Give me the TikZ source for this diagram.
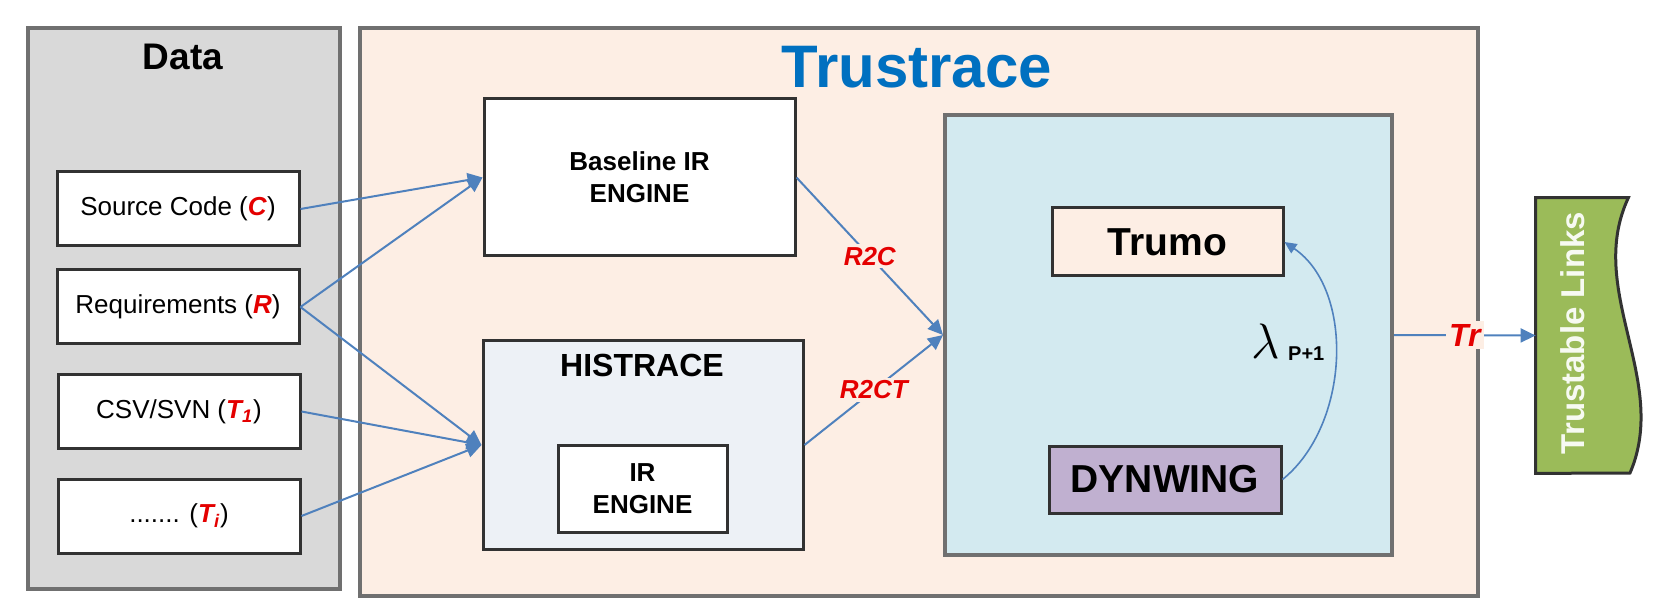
\documentclass[tikz,border=0pt]{standalone}
\usepackage{fontspec}
\setmainfont{Liberation Sans}
\usetikzlibrary{arrows.meta}
\definecolor{datagray}{RGB}{217,217,217}
\definecolor{framegray}{RGB}{112,112,112}
\definecolor{boxedge}{RGB}{50,50,50}
\definecolor{peach}{RGB}{253,238,228}
\definecolor{histblue}{RGB}{237,241,246}
\definecolor{coreblue}{RGB}{211,234,240}
\definecolor{lavender}{RGB}{192,176,208}
\definecolor{linkgreen}{RGB}{155,187,89}
\definecolor{flowblue}{RGB}{79,129,189}
\definecolor{tracered}{RGB}{228,0,0}
\definecolor{titleblue}{RGB}{0,112,192}
\newcommand{\tracevar}[1]{\textcolor{tracered}{\textbf{\textit{#1}}}}
\begin{document}
\begin{tikzpicture}
[x=0.5pt,y=-0.5pt,%
 panelstyle/.style={draw=framegray,line width=2pt,inner sep=0pt},%
 boxstyle/.style={draw=boxedge,line width=1.5pt,inner sep=0pt,align=center},%
 datastyle/.style={boxstyle,fill=white,minimum width=121pt,minimum height=37pt,font=\fontsize{13}{15}\selectfont},%
 enginestyle/.style={boxstyle,font=\fontsize{13}{16}\selectfont\bfseries},%
 flowstyle/.style={draw=flowblue,line width=1pt,-{Triangle[length=7.5pt,width=7pt]}},%
 tracestyle/.style={font=\fontsize{13}{13}\selectfont\bfseries\itshape,text=tracered,fill=peach,inner sep=1.5pt}]
\useasboundingbox (0,0) rectangle (1669,614);
%% data sources
\node[panelstyle,fill=datagray,minimum width=156pt,minimum height=280.5pt] (datapanel) at (184,308.5) {};
\node[font=\fontsize{18.5}{18.5}\selectfont\bfseries] (datatitle) at (183,57) {Data};
\node[datastyle] (source) at (178,209) {Source Code (\tracevar{C})};
\node[datastyle] (req) at (178,307) {Requirements (\tracevar{R})};
\node[datastyle] (csv) at (179,411.5) {CSV/SVN (\tracevar{T\textsubscript{1}})};
\node[datastyle] (other) at (179,516) {....... (\tracevar{T\textsubscript{i}})};
%% trustrace
\node[panelstyle,fill=peach,minimum width=559pt,minimum height=284pt] (trustpanel) at (919,312) {};
\node[font=\fontsize{30}{30}\selectfont\bfseries,text=titleblue] (trusttitle) at (917,67) {Trustrace};
\node[enginestyle,fill=white,minimum width=155.5pt,minimum height=78.5pt] (baseline) at (639.5,177.5) {Baseline IR\\ENGINE};
\node[enginestyle,fill=histblue,minimum width=160pt,minimum height=104pt] (histrace) at (643,445) {};
\node[font=\fontsize{16}{16}\selectfont\bfseries] (histtitle) at (642,365) {HISTRACE};
\node[enginestyle,fill=white,minimum width=84.5pt,minimum height=43.5pt] (irengine) at (642.5,488.5) {IR\\ENGINE};
\node[panelstyle,fill=coreblue,minimum width=223.5pt,minimum height=220pt] (corepanel) at (1168.5,335) {};
\node[boxstyle,fill=peach,minimum width=115.5pt,minimum height=34pt,font=\fontsize{19.5}{19.5}\selectfont\bfseries] (trumo) at (1167.5,242) {Trumo};
\node[boxstyle,fill=lavender,minimum width=116pt,minimum height=33.5pt,font=\fontsize{19.5}{19.5}\selectfont\bfseries] (dynwing) at (1165,479.5) {DYNWING};
\node (lambda) at (1288,342) {{\fontsize{30}{30}\selectfont$\lambda$}\hspace{4pt}\raisebox{-1.2pt}{\fontsize{10}{10}\selectfont\bfseries P+1}};
%% output
\node[minimum width=46pt,minimum height=137.5pt,inner sep=0pt] (links) at (1582,335.5) {};
\draw[draw=boxedge,line width=1.5pt,fill=linkgreen] (links.north west) -- (links.north east)
  .. controls (1585,290) and (1670,380) .. (1630,473) -- (links.south west) -- cycle;
\node[rotate=90,text=white!92!linkgreen,font=\fontsize{16.5}{16.5}\selectfont\bfseries] (linkstext) at (1573,333) {Trustable Links};
%% connectors
\draw[flowstyle] (source.east) -- (baseline.west);
\draw[flowstyle] (req.east) -- (baseline.west);
\draw[flowstyle] (req.east) -- (histrace.west);
\draw[flowstyle] (csv.east) -- (histrace.west);
\draw[flowstyle] (other.east) -- (histrace.west);
\draw[flowstyle] (baseline.east) -- (corepanel.west) node[midway,tracestyle] {R2C};
\draw[flowstyle] (histrace.east) -- (corepanel.west) node[midway,tracestyle] {R2CT};
\draw[flowstyle,line width=0.8pt,-{Triangle[length=6pt,width=5.5pt]}] (dynwing.east) .. controls (1350,425) and (1355,290) .. (trumo.east);
\draw[flowstyle] (corepanel.east) -- (links.west) node[midway,tracestyle,font=\fontsize{16}{16}\selectfont\bfseries\itshape] {Tr};
\end{tikzpicture}
\end{document}
